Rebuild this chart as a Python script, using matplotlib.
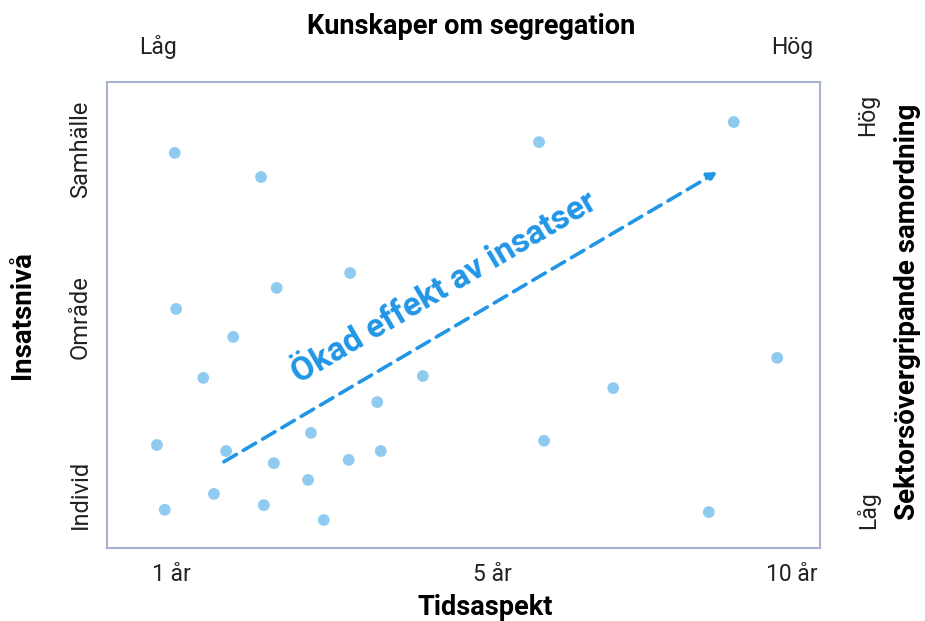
import matplotlib.pyplot as plt

plt.rcParams['font.family'] = ['Roboto', 'DejaVu Sans']

# Dot positions on a 0-100 scale in both directions
x_vals = [9.5, 21.6, 60.6, 87.9, 34.1, 23.8, 9.7, 17.7, 13.5, 44.3, 94.0, 71.0, 37.9,
          28.6, 7.0, 16.7, 23.4, 38.4, 33.9, 61.3, 28.2, 15.0, 22.0, 8.1, 30.4, 84.4]
y_vals = [84.8, 79.6, 87.1, 91.4, 59.0, 55.8, 51.3, 45.3, 36.5, 36.9, 40.8, 34.3, 31.3,
          24.7, 22.1, 20.8, 18.2, 20.8, 18.9, 23.0, 14.6, 11.6, 9.2, 8.2, 6.0, 7.7]

x_ticks = [9.1, 54.0, 96.1]
x_labels = ["1 år", "5 år", "10 år"]
y_ticks = [11.4, 49.6, 85.6]
y_labels = ["Individ", "Område", "Samhälle"]

arrow_start = (16.4, 18.5)
arrow_end = (85.6, 80.7)

dot_color = "#8fcbf0"
arrow_color = "#2196e6"

fig = plt.figure(figsize=(9.25, 6.21), dpi=100)
ax = fig.add_axes([0.1157, 0.1176, 0.7708, 0.7504])

ax.scatter(x_vals, y_vals, s=72, color=dot_color, edgecolors="none", zorder=3)

ax.annotate("", xy=arrow_end, xytext=arrow_start,
            arrowprops=dict(arrowstyle="-|>,head_length=0.55,head_width=0.28",
                            linestyle=(0, (4, 2.2)), lw=2.6, color=arrow_color,
                            shrinkA=0, shrinkB=0))
ax.text(47.3, 55.8, "Ökad effekt av insatser", rotation=30.5, rotation_mode="anchor",
        ha="center", va="center", fontsize=24, fontweight="bold", color=arrow_color)

ax.set_xlim(0, 100)
ax.set_ylim(0, 100)
ax.set_xticks(x_ticks)
ax.set_xticklabels(x_labels, fontsize=16.5, color="#222222")
ax.set_yticks(y_ticks)
ax.set_yticklabels(y_labels, fontsize=17, rotation=90, va="center", color="#222222")
ax.tick_params(axis="x", length=0, pad=11)
ax.tick_params(axis="y", length=0, pad=11)
for sp in ax.spines.values():
    sp.set_color("#a9b3d1")
    sp.set_linewidth(1.5)

ax.set_xlabel("Tidsaspekt", fontsize=19.5, fontweight="bold")
ax.xaxis.set_label_coords(0.530, -0.127)
ax.xaxis.label.set_va("center")
ax.set_ylabel("Insatsnivå", fontsize=20, fontweight="bold")
ax.yaxis.set_label_coords(-0.118, 0.5)
ax.yaxis.label.set_va("center")

# top axis labels
fig.text(0.509, 0.958, "Kunskaper om segregation", ha="center", va="center",
         fontsize=19.5, fontweight="bold")
fig.text(0.171, 0.924, "Låg", ha="center", va="center", fontsize=16.5, color="#222222")
fig.text(0.856, 0.924, "Hög", ha="center", va="center", fontsize=16.5, color="#222222")

# right axis labels
fig.text(0.938, 0.815, "Hög", ha="center", va="center", fontsize=16.5, rotation=90,
         color="#222222")
fig.text(0.938, 0.179, "Låg", ha="center", va="center", fontsize=16.5, rotation=90,
         color="#222222")
fig.text(0.981, 0.498, "Sektorsövergripande samordning", ha="center", va="center",
         fontsize=20, fontweight="bold", rotation=90)

fig.savefig("out.png", dpi=100, facecolor="white")
